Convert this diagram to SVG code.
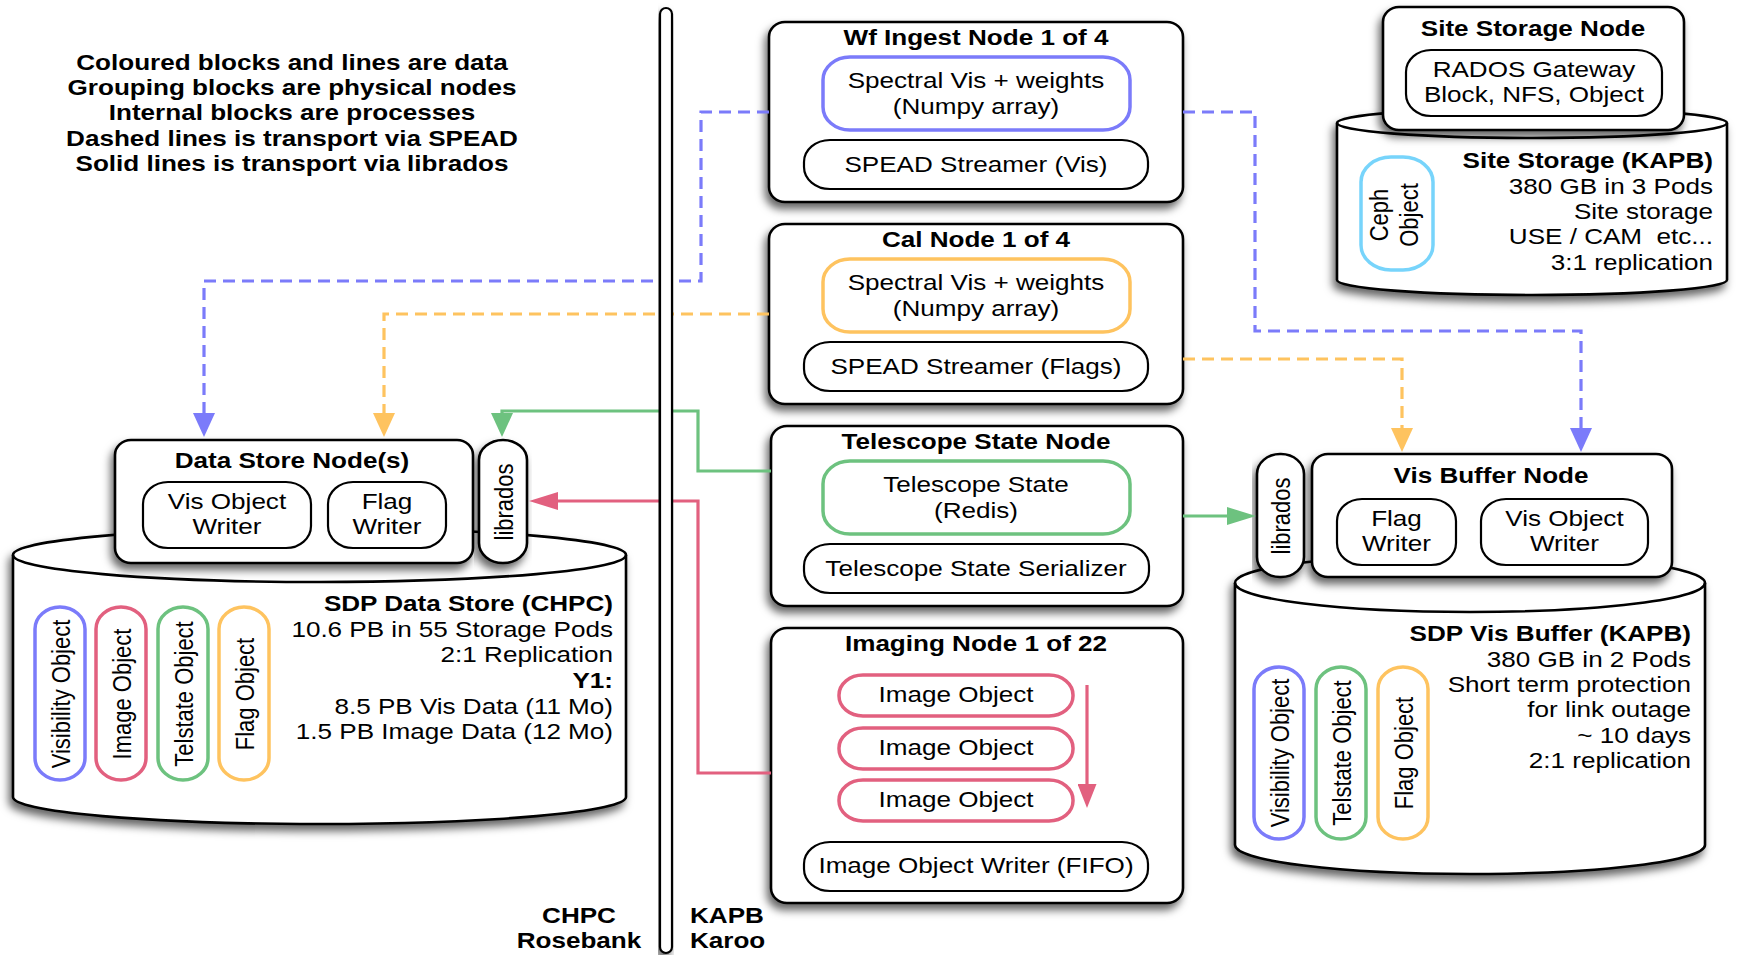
<svg xmlns="http://www.w3.org/2000/svg" width="1737" height="955" viewBox="0 0 1737 955">
  <style>
    text { font-family: "Liberation Sans", Arial, Helvetica, sans-serif; font-size: 22px; fill: #000; }
    .b { font-weight: bold; }
    .m { text-anchor: middle; }
    .e { text-anchor: end; }
    .s { text-anchor: start; }
    .node { fill: #fff; stroke: #000; stroke-width: 2.6; }
    .proc { fill: #fff; stroke: #000; stroke-width: 2.2; }
    .cyl { fill: #fff; stroke: #000; stroke-width: 2.6; }
    .cylrim { fill: none; stroke: #000; stroke-width: 2.6; }
    .data { fill: #fff; stroke-width: 3.5; }
    .blue { stroke: #7b7bfa; }
    .orange { stroke: #fec35f; }
    .green { stroke: #6dc27f; }
    .red { stroke: #e2607f; }
    .cyan { stroke: #77d4fb; }
    .link { fill: none; stroke-width: 3.2; }
    .dash { stroke-dasharray: 12 7; }
  </style>
  <defs>
    <filter id="shadow" x="-10%" y="-10%" width="120%" height="130%">
      <feDropShadow dx="-3" dy="6" stdDeviation="4" flood-color="#000" flood-opacity="0.6"/>
    </filter>
    <marker id="avBlue" markerUnits="userSpaceOnUse" markerWidth="24" markerHeight="22" viewBox="0 0 24 22" refX="14" refY="11" orient="auto">
      <path d="M0,0 L24,11 L0,22 Z" fill="#7b7bfa"/>
    </marker>
    <marker id="avOrange" markerUnits="userSpaceOnUse" markerWidth="24" markerHeight="22" viewBox="0 0 24 22" refX="14" refY="11" orient="auto">
      <path d="M0,0 L24,11 L0,22 Z" fill="#fec35f"/>
    </marker>
    <marker id="avGreen" markerUnits="userSpaceOnUse" markerWidth="24" markerHeight="22" viewBox="0 0 24 22" refX="14" refY="11" orient="auto">
      <path d="M0,0 L24,11 L0,22 Z" fill="#6dc27f"/>
    </marker>
    <marker id="ahGreen" markerUnits="userSpaceOnUse" markerWidth="29" markerHeight="18" viewBox="0 0 29 18" refX="19" refY="9" orient="auto">
      <path d="M0,0 L29,9 L0,18 Z" fill="#6dc27f"/>
    </marker>
    <marker id="ahRed" markerUnits="userSpaceOnUse" markerWidth="29" markerHeight="18" viewBox="0 0 29 18" refX="19" refY="9" orient="auto">
      <path d="M0,0 L29,9 L0,18 Z" fill="#e2607f"/>
    </marker>
    <marker id="avRed" markerUnits="userSpaceOnUse" markerWidth="24" markerHeight="19" viewBox="0 0 24 19" refX="14" refY="9.5" orient="auto">
      <path d="M0,0 L24,9.5 L0,19 Z" fill="#e2607f"/>
    </marker>
  </defs>

  <rect width="1737" height="955" fill="#fff"/>

  <!-- key -->
  <g id="legend">
    <text class="b m" transform="translate(292 69.5) scale(1.185 1)"><tspan x="0" y="0">Coloured blocks and lines are data</tspan><tspan x="0" y="25.5">Grouping blocks are physical nodes</tspan><tspan x="0" y="51">Internal blocks are processes</tspan><tspan x="0" y="76.5">Dashed lines is transport via SPEAD</tspan><tspan x="0" y="102">Solid lines is transport via librados</tspan></text>
  </g>

  <!-- CHPC data store -->
  <g id="sdp-data-store">
    <path class="cyl" filter="url(#shadow)" d="M13,555 A306.5,27 0 0 1 626,555 V797 A306.5,27 0 0 1 13,797 Z"/>
    <path class="cylrim" d="M13,555 A306.5,27 0 0 0 626,555"/>
    <text class="b e" transform="translate(613 611) scale(1.185 1)">SDP Data Store (CHPC)</text>
    <text class="e" transform="translate(613 637) scale(1.185 1)"><tspan x="0" y="0">10.6 PB in 55 Storage Pods</tspan><tspan x="0" y="25.5">2:1 Replication</tspan></text>
    <text class="b e" transform="translate(613 688) scale(1.185 1)">Y1:</text>
    <text class="e" transform="translate(613 713.5) scale(1.185 1)"><tspan x="0" y="0">8.5 PB Vis Data (11 Mo)</tspan><tspan x="0" y="25.5">1.5 PB Image Data (12 Mo)</tspan></text>
    <rect class="data blue" x="35" y="607" width="50" height="173" rx="25" ry="22"/>
    <rect class="data red" x="96" y="607" width="50" height="173" rx="25" ry="22"/>
    <rect class="data green" x="158" y="607" width="50" height="173" rx="25" ry="22"/>
    <rect class="data orange" x="219" y="607" width="50" height="173" rx="25" ry="22"/>
    <text class="m" transform="translate(69.5 694) scale(1.185 1) rotate(-90)">Visibility Object</text>
    <text class="m" transform="translate(130.5 694) scale(1.185 1) rotate(-90)">Image Object</text>
    <text class="m" transform="translate(192.5 694) scale(1.185 1) rotate(-90)">Telstate Object</text>
    <text class="m" transform="translate(253.5 694) scale(1.185 1) rotate(-90)">Flag Object</text>
  </g>

  <g id="data-store-node">
    <rect class="node" filter="url(#shadow)" x="115" y="440" width="358" height="123" rx="16" ry="15"/>
    <text class="b m" transform="translate(292 468) scale(1.185 1)">Data Store Node(s)</text>
    <rect class="proc" x="143" y="482" width="168" height="66" rx="25" ry="22"/>
    <text class="m" transform="translate(227 509) scale(1.185 1)"><tspan x="0" y="0">Vis Object</tspan><tspan x="0" y="25">Writer</tspan></text>
    <rect class="proc" x="328" y="482" width="118" height="66" rx="25" ry="22"/>
    <text class="m" transform="translate(387 509) scale(1.185 1)"><tspan x="0" y="0">Flag</tspan><tspan x="0" y="25">Writer</tspan></text>
  </g>

  <g id="data-store-librados">
    <rect class="node" filter="url(#shadow)" x="479" y="440" width="48" height="123" rx="24" ry="20"/>
    <text class="m" transform="translate(512.5 502) scale(1.185 1) rotate(-90)">librados</text>
  </g>

  <!-- KAPB processing nodes -->
  <g id="wf-ingest-node">
    <rect class="node" filter="url(#shadow)" x="769" y="22" width="414" height="180" rx="16" ry="15"/>
    <text class="b m" transform="translate(976 45) scale(1.185 1)">Wf Ingest Node 1 of 4</text>
    <rect class="data blue" x="823" y="57" width="307" height="73" rx="27" ry="23"/>
    <text class="m" transform="translate(976 88) scale(1.185 1)"><tspan x="0" y="0">Spectral Vis + weights</tspan><tspan x="0" y="26">(Numpy array)</tspan></text>
    <rect class="proc" x="804" y="140" width="344" height="49" rx="26" ry="22"/>
    <text class="m" transform="translate(976 172) scale(1.185 1)">SPEAD Streamer (Vis)</text>
  </g>

  <g id="cal-node">
    <rect class="node" filter="url(#shadow)" x="769" y="224" width="414" height="180" rx="16" ry="15"/>
    <text class="b m" transform="translate(976 247) scale(1.185 1)">Cal Node 1 of 4</text>
    <rect class="data orange" x="823" y="259" width="307" height="73" rx="27" ry="23"/>
    <text class="m" transform="translate(976 290) scale(1.185 1)"><tspan x="0" y="0">Spectral Vis + weights</tspan><tspan x="0" y="26">(Numpy array)</tspan></text>
    <rect class="proc" x="804" y="342" width="344" height="49" rx="26" ry="22"/>
    <text class="m" transform="translate(976 374) scale(1.185 1)">SPEAD Streamer (Flags)</text>
  </g>

  <g id="telescope-state-node">
    <rect class="node" filter="url(#shadow)" x="771" y="426" width="412" height="180" rx="16" ry="15"/>
    <text class="b m" transform="translate(976 449) scale(1.185 1)">Telescope State Node</text>
    <rect class="data green" x="823" y="461" width="307" height="73" rx="27" ry="23"/>
    <text class="m" transform="translate(976 492) scale(1.185 1)"><tspan x="0" y="0">Telescope State</tspan><tspan x="0" y="26">(Redis)</tspan></text>
    <rect class="proc" x="804" y="544" width="345" height="49" rx="26" ry="22"/>
    <text class="m" transform="translate(976 576) scale(1.185 1)">Telescope State Serializer</text>
  </g>

  <g id="imaging-node">
    <rect class="node" filter="url(#shadow)" x="771" y="628" width="412" height="275" rx="16" ry="15"/>
    <text class="b m" transform="translate(976 651) scale(1.185 1)">Imaging Node 1 of 22</text>
    <rect class="data red" x="839" y="675" width="234" height="41" rx="24" ry="20"/>
    <text class="m" transform="translate(956 702) scale(1.185 1)">Image Object</text>
    <rect class="data red" x="839" y="728" width="234" height="41" rx="24" ry="20"/>
    <text class="m" transform="translate(956 755) scale(1.185 1)">Image Object</text>
    <rect class="data red" x="839" y="780" width="234" height="41" rx="24" ry="20"/>
    <text class="m" transform="translate(956 807) scale(1.185 1)">Image Object</text>
    <path class="link red" d="M1087,685 V798" marker-end="url(#avRed)"/>
    <rect class="proc" x="804" y="842" width="344" height="49" rx="26" ry="22"/>
    <text class="m" transform="translate(976 873) scale(1.185 1)">Image Object Writer (FIFO)</text>
  </g>

  <!-- site storage -->
  <g id="site-storage">
    <path class="cyl" filter="url(#shadow)" d="M1337,123 A195,15 0 0 1 1727,123 V280 A195,15 0 0 1 1337,280 Z"/>
    <path class="cylrim" d="M1337,123 A195,15 0 0 0 1727,123"/>
    <rect class="data cyan" x="1361" y="157" width="72" height="113" rx="30" ry="25"/>
    <text class="m" transform="translate(1388 215) scale(1.185 1) rotate(-90)"><tspan x="0" y="0">Ceph</tspan><tspan x="0" y="25.5">Object</tspan></text>
    <text class="b e" transform="translate(1713 168) scale(1.185 1)">Site Storage (KAPB)</text>
    <text class="e" transform="translate(1713 193.5) scale(1.185 1)"><tspan x="0" y="0">380 GB in 3 Pods</tspan><tspan x="0" y="25.5">Site storage</tspan><tspan x="0" y="51" xml:space="preserve">USE / CAM  etc...</tspan><tspan x="0" y="76.5">3:1 replication</tspan></text>
  </g>

  <g id="site-storage-node">
    <rect class="node" filter="url(#shadow)" x="1383" y="7" width="301" height="123" rx="16" ry="15"/>
    <text class="b m" transform="translate(1533 36) scale(1.185 1)">Site Storage Node</text>
    <rect class="proc" x="1406" y="50" width="256" height="66" rx="25" ry="22"/>
    <text class="m" transform="translate(1534 77) scale(1.185 1)"><tspan x="0" y="0">RADOS Gateway</tspan><tspan x="0" y="25">Block, NFS, Object</tspan></text>
  </g>

  <!-- vis buffer -->
  <g id="sdp-vis-buffer">
    <path class="cyl" filter="url(#shadow)" d="M1235,583 A235,29 0 0 1 1705,583 V845 A235,29 0 0 1 1235,845 Z"/>
    <path class="cylrim" d="M1235,583 A235,29 0 0 0 1705,583"/>
    <text class="b e" transform="translate(1691 641) scale(1.185 1)">SDP Vis Buffer (KAPB)</text>
    <text class="e" transform="translate(1691 666.5) scale(1.185 1)"><tspan x="0" y="0">380 GB in 2 Pods</tspan><tspan x="0" y="25.5">Short term protection</tspan><tspan x="0" y="51">for link outage</tspan><tspan x="0" y="76.5">~ 10 days</tspan><tspan x="0" y="102">2:1 replication</tspan></text>
    <rect class="data blue" x="1254" y="667" width="50" height="172" rx="25" ry="22"/>
    <rect class="data green" x="1316" y="667" width="50" height="172" rx="25" ry="22"/>
    <rect class="data orange" x="1378" y="667" width="50" height="172" rx="25" ry="22"/>
    <text class="m" transform="translate(1288.5 753) scale(1.185 1) rotate(-90)">Visibility Object</text>
    <text class="m" transform="translate(1350.5 753) scale(1.185 1) rotate(-90)">Telstate Object</text>
    <text class="m" transform="translate(1412.5 753) scale(1.185 1) rotate(-90)">Flag Object</text>
  </g>

  <g id="vis-buffer-node">
    <rect class="node" filter="url(#shadow)" x="1312" y="454" width="360" height="123" rx="16" ry="15"/>
    <text class="b m" transform="translate(1491 483) scale(1.185 1)">Vis Buffer Node</text>
    <rect class="proc" x="1337" y="499" width="119" height="66" rx="25" ry="22"/>
    <text class="m" transform="translate(1396.5 526) scale(1.185 1)"><tspan x="0" y="0">Flag</tspan><tspan x="0" y="25">Writer</tspan></text>
    <rect class="proc" x="1481" y="499" width="167" height="66" rx="25" ry="22"/>
    <text class="m" transform="translate(1564.5 526) scale(1.185 1)"><tspan x="0" y="0">Vis Object</tspan><tspan x="0" y="25">Writer</tspan></text>
  </g>

  <g id="vis-buffer-librados">
    <rect class="node" filter="url(#shadow)" x="1257" y="454" width="47" height="123" rx="23" ry="20"/>
    <text class="m" transform="translate(1290 516) scale(1.185 1) rotate(-90)">librados</text>
  </g>

  <!-- transport links -->
  <g id="connectors">
    <path class="link dash blue" d="M769,112 H701 V281 H204 V427" marker-end="url(#avBlue)"/>
    <path class="link dash blue" d="M1183,112 H1255 V331 H1581 V442" marker-end="url(#avBlue)"/>
    <path class="link dash orange" d="M769,314 H384 V427" marker-end="url(#avOrange)"/>
    <path class="link dash orange" d="M1183,359 H1402 V442" marker-end="url(#avOrange)"/>
    <path class="link green" d="M771,471 H698 V411 H502 V427" marker-end="url(#avGreen)"/>
    <path class="link green" d="M1183,516 H1246" marker-end="url(#ahGreen)"/>
    <path class="link red" d="M771,773 H698 V501 H539" marker-end="url(#ahRed)"/>
  </g>

  <!-- site boundary -->
  <g id="boundary">
    <rect x="660" y="8" width="12" height="945" rx="6" ry="6" fill="#fff" stroke="#000" stroke-width="2.2" filter="url(#shadow)"/>
    <text class="b m" transform="translate(579 923) scale(1.185 1)"><tspan x="0" y="0">CHPC</tspan><tspan x="0" y="25.5">Rosebank</tspan></text>
    <text class="b s" transform="translate(690 923) scale(1.185 1)"><tspan x="0" y="0">KAPB</tspan><tspan x="0" y="25.5">Karoo</tspan></text>
  </g>
</svg>
